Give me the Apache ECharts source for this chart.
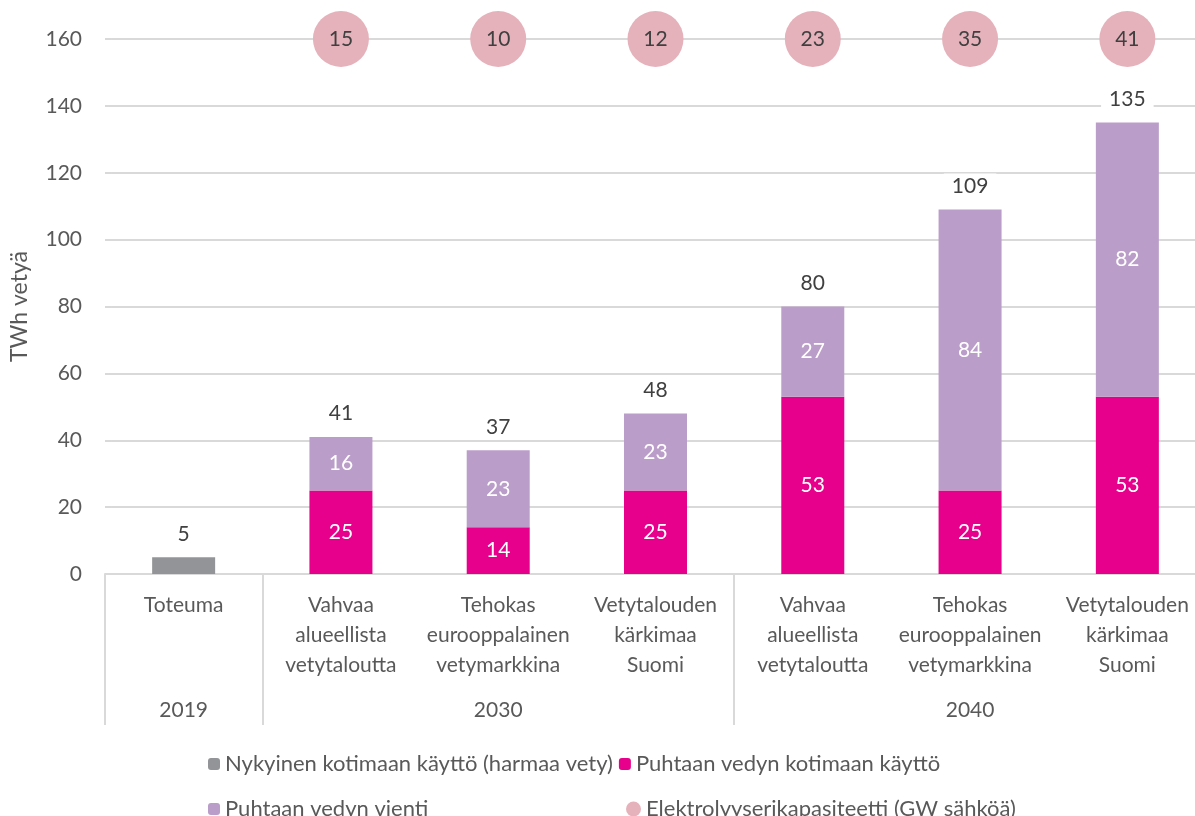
<!DOCTYPE html>
<html><head><meta charset="utf-8">
<script src="https://cdn.jsdelivr.net/npm/echarts@6/dist/echarts.min.js"></script>
<style>html,body{margin:0;padding:0;background:#fff}#c{width:1195px;height:816px}</style>
</head><body><div id="c"></div>
<script>
const categories = ['Toteuma', 'Vahvaa\nalueellista\nvetytaloutta', 'Tehokas\neurooppalainen\nvetymarkkina', 'Vetytalouden\nkärkimaa\nSuomi', 'Vahvaa\nalueellista\nvetytaloutta', 'Tehokas\neurooppalainen\nvetymarkkina', 'Vetytalouden\nkärkimaa\nSuomi'];
const yearLabels = ['2019', '', '2030', '', '', '2040', ''];
const groupStarts = [0, 1, 4];
const greyUse = [5, null, null, null, null, null, null];
const cleanDomestic = [null, 25, 14, 25, 53, 25, 53];
const cleanExport = [null, 16, 23, 23, 27, 84, 82];
const electrolyserGW = [null, 15, 10, 12, 23, 35, 41];
const yTicks = [0, 20, 40, 60, 80, 100, 120, 140, 160];

const names = ['Nykyinen kotimaan käyttö (harmaa vety)', 'Puhtaan vedyn kotimaan käyttö', 'Puhtaan vedyn vienti', 'Elektrolyyserikapasiteetti (GW sähköä)'];
const totals = categories.map((_, i) => (greyUse[i] || 0) + (cleanDomestic[i] || 0) + (cleanExport[i] || 0));
const yMax = yTicks[yTicks.length - 1];
const FONT = 'Lato';
const TXT = '#595959';
const GRID = '#d9d9d9';

const chart = echarts.init(document.getElementById('c'));
const legendText = { fontFamily: FONT, fontSize: 22, color: TXT };
chart.setOption({
  animation: false,
  textStyle: { fontFamily: FONT },
  grid: { left: 105, right: -11, top: 39, bottom: 242, containLabel: false, outerBoundsMode: 'none' },
  legend: [
    { data: [names[0], names[1]], left: 203, top: 748, itemWidth: 12, itemHeight: 12, itemGap: 6, textStyle: legendText, selectedMode: false },
    { data: [names[2]], left: 203, top: 793, itemWidth: 12, itemHeight: 12, textStyle: legendText, selectedMode: false },
    { data: [{ name: names[3], icon: 'circle' }], left: 621, top: 793, itemWidth: 15, itemHeight: 15, textStyle: legendText, selectedMode: false }
  ],
  xAxis: [
    {
      type: 'category', data: categories, position: 'bottom',
      axisLine: { show: true, lineStyle: { color: GRID, width: 2 } },
      axisTick: { show: true, length: 151, interval: (i) => groupStarts.includes(i), lineStyle: { color: GRID, width: 2 } },
      axisLabel: { interval: 0, margin: 16, fontSize: 21, lineHeight: 30, color: TXT, verticalAlign: 'top', fontFamily: FONT }
    },
    {
      type: 'category', data: categories, position: 'bottom', offset: 0,
      axisLine: { show: false }, axisTick: { show: false },
      axisLabel: { interval: 0, margin: 126, fontSize: 21, color: TXT, fontFamily: FONT, formatter: (v, i) => yearLabels[i] }
    }
  ],
  yAxis: {
    type: 'value', min: 0, max: yMax, interval: 20,
    name: 'TWh vetyä', nameLocation: 'middle', nameRotate: 90, nameGap: 74,
    nameTextStyle: { fontSize: 23, color: TXT, fontFamily: FONT },
    axisLine: { show: false }, axisTick: { show: false },
    axisLabel: { fontSize: 21, color: TXT, margin: 23, fontFamily: FONT },
    splitLine: { lineStyle: { color: GRID, width: 2 } }
  },
  series: [
    { name: names[0], type: 'bar', stack: 's', barWidth: 63, data: greyUse, itemStyle: { color: '#939497' } },
    { name: names[1], type: 'bar', stack: 's', barWidth: 63, data: cleanDomestic, itemStyle: { color: '#e6008b' },
      label: { show: true, position: 'inside', color: '#fff', fontSize: 21, fontFamily: FONT } },
    { name: names[2], type: 'bar', stack: 's', barWidth: 63, data: cleanExport, itemStyle: { color: '#bb9dc9' },
      label: { show: true, position: 'inside', color: '#fff', fontSize: 21, fontFamily: FONT } },
    { name: 'Yhteensä', type: 'line', data: totals, symbol: 'circle', symbolSize: 2, showSymbol: true,
      itemStyle: { color: 'rgba(0,0,0,0)' }, lineStyle: { width: 0, opacity: 0 }, z: 5,
      label: { show: true, position: 'top', distance: 10, color: '#404040', fontSize: 21, fontFamily: FONT,
        backgroundColor: '#fff', padding: [2, 8] } },
    { name: names[3], type: 'scatter', symbolSize: 56, z: 6,
      data: electrolyserGW.map((v, i) => v == null ? null : { value: [i, yMax], cap: v }),
      itemStyle: { color: '#e5b2bb', opacity: 1 },
      label: { show: true, position: 'inside', color: '#404040', fontSize: 21, fontFamily: FONT, formatter: (p) => p.data.cap } }
  ]
});
</script></body></html>
